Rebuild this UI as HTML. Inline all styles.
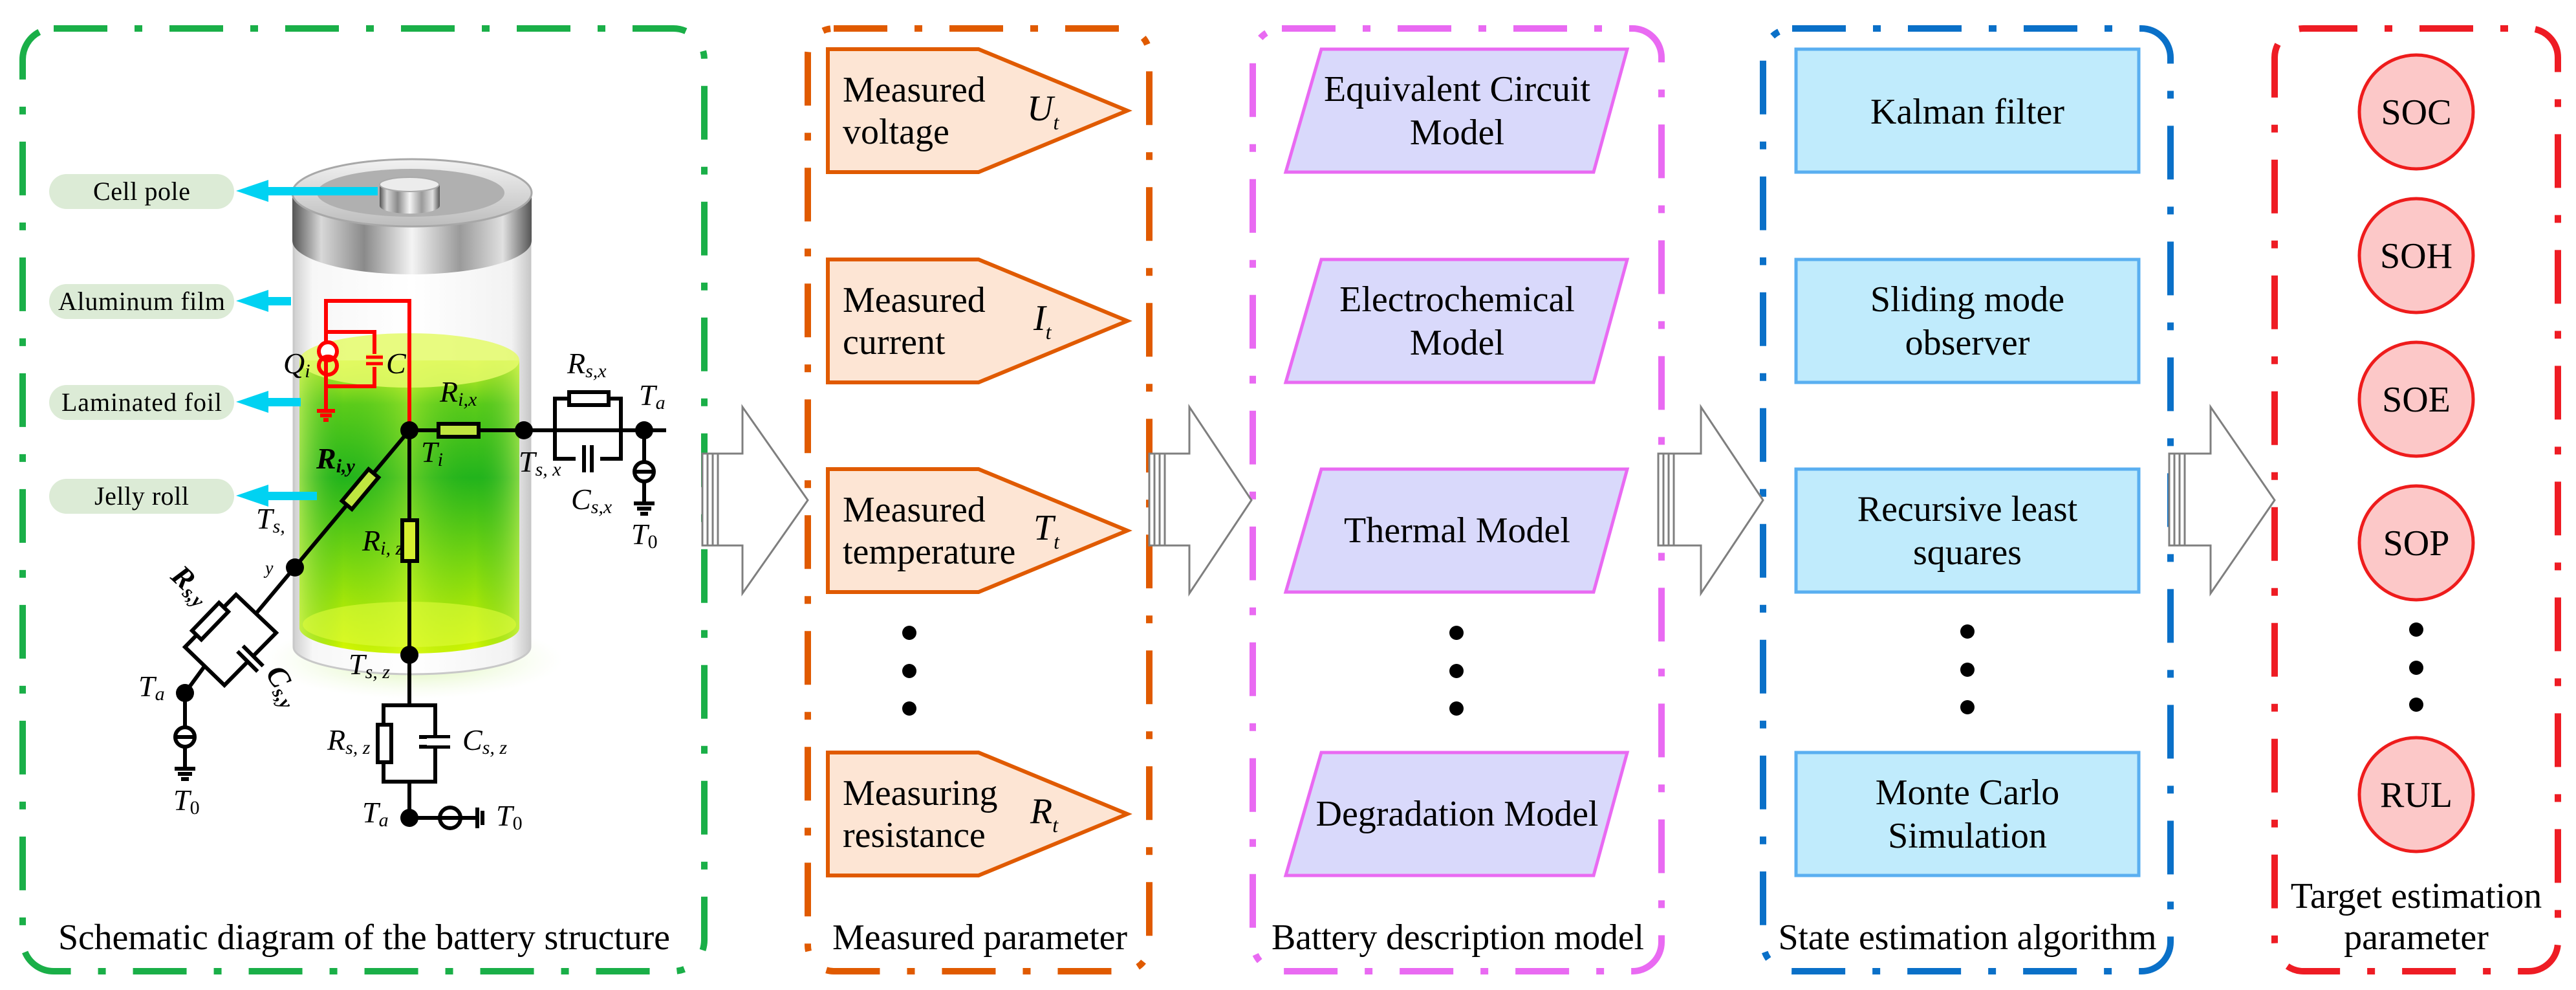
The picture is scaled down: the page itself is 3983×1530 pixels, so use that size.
<!DOCTYPE html>
<html><head><meta charset="utf-8"><style>
html,body{margin:0;padding:0;background:#fff}
svg{display:block}
svg text{font-family:"Liberation Serif","Times New Roman","DejaVu Serif",serif}
</style></head><body>
<svg width="3983" height="1530" viewBox="0 0 3983 1530" xmlns="http://www.w3.org/2000/svg" font-family="'Liberation Serif', 'Times New Roman', 'DejaVu Serif', serif">
<defs>
<linearGradient id="metal" x1="0" x2="1" y1="0" y2="0">
<stop offset="0" stop-color="#555"/><stop offset="0.12" stop-color="#d8d8d8"/><stop offset="0.3" stop-color="#8a8a8a"/><stop offset="0.5" stop-color="#f4f4f4"/><stop offset="0.7" stop-color="#9a9a9a"/><stop offset="0.88" stop-color="#e0e0e0"/><stop offset="1" stop-color="#555"/>
</linearGradient>
<linearGradient id="capTop" x1="0" x2="0" y1="0" y2="1">
<stop offset="0" stop-color="#f2f2f2"/><stop offset="1" stop-color="#bdbdbd"/>
</linearGradient>
<linearGradient id="glass" x1="0" x2="1" y1="0" y2="0">
<stop offset="0" stop-color="#cfcfcf"/><stop offset="0.08" stop-color="#f7f7f7"/><stop offset="0.5" stop-color="#ffffff"/><stop offset="0.92" stop-color="#f2f2f2"/><stop offset="1" stop-color="#c8c8c8"/>
</linearGradient>
<linearGradient id="liquid" x1="0" x2="0" y1="0" y2="1">
<stop offset="0" stop-color="#d7f52a"/><stop offset="0.15" stop-color="#5ccc1a"/><stop offset="0.4" stop-color="#22b41c"/><stop offset="0.7" stop-color="#7fd90f"/><stop offset="1" stop-color="#d8f800"/>
</linearGradient>
<linearGradient id="liqSide" x1="0" x2="1" y1="0" y2="0">
<stop offset="0" stop-color="#c8f060" stop-opacity="0.7"/><stop offset="0.2" stop-color="#2fb51e" stop-opacity="0"/><stop offset="0.5" stop-color="#e8ff40" stop-opacity="0.35"/><stop offset="0.8" stop-color="#1aa81a" stop-opacity="0"/><stop offset="1" stop-color="#c8f060" stop-opacity="0.6"/>
</linearGradient>
<radialGradient id="glow" cx="0.5" cy="0.5" r="0.5">
<stop offset="0" stop-color="#c8f08a" stop-opacity="0.8"/><stop offset="1" stop-color="#e8f8d0" stop-opacity="0"/>
</radialGradient>
</defs>

<!-- group boxes -->
<g fill="none" stroke-width="10" stroke-dasharray="83 42 12 42">
<rect x="35" y="44" width="1054" height="1457" rx="48" stroke="#1aaf48"/>
<rect x="1249" y="44" width="528" height="1457" rx="40" stroke="#e05a00"/>
<rect x="1937" y="44" width="632" height="1457" rx="45" stroke="#e96af2"/>
<rect x="2726" y="44" width="630" height="1457" rx="45" stroke="#0a70c8"/>
<rect x="3517" y="44" width="438" height="1457" rx="45" stroke="#ee1c24"/>
</g>

<!-- battery -->
<ellipse cx="640" cy="1020" rx="230" ry="60" fill="url(#glow)"/>
<path d="M454 372 L454 1000 A183 42 0 0 0 820 1000 L820 372 Z" fill="url(#glass)" stroke="#c8c8c8" stroke-width="3"/>
<path d="M463 557 L463 970 A170 40 0 0 0 803 970 L803 557 Z" fill="url(#liquid)"/>
<path d="M463 557 L463 970 A170 40 0 0 0 803 970 L803 557 Z" fill="url(#liqSide)"/>
<ellipse cx="633" cy="557" rx="170" ry="42" fill="#e4fa6a" opacity="0.85"/>
<ellipse cx="633" cy="965" rx="165" ry="35" fill="#e0fb3a" opacity="0.6"/>
<path d="M452 298 L452 372 A185 52 0 0 0 822 372 L822 298 Z" fill="url(#metal)"/>
<ellipse cx="637" cy="298" rx="185" ry="52" fill="url(#capTop)" stroke="#a8a8a8" stroke-width="3"/>
<ellipse cx="635" cy="298" rx="145" ry="37" fill="#b0b0b0"/>
<path d="M587 285 L587 318 A46 12 0 0 0 680 318 L680 285 Z" fill="url(#metal)"/>
<ellipse cx="633" cy="285" rx="46" ry="11" fill="#ececec" stroke="#aaa" stroke-width="2"/>

<!-- pills and cyan arrows -->
<g fill="#dcebd6">
<rect x="76" y="269" width="286" height="54" rx="27"/>
<rect x="76" y="439" width="286" height="54" rx="27"/>
<rect x="76" y="595" width="286" height="54" rx="27"/>
<rect x="76" y="740" width="286" height="54" rx="27"/>
</g>
<g font-size="40" text-anchor="middle" fill="#000">
<text x="219" y="309" textLength="150">Cell pole</text>
<text x="219" y="479" textLength="258">Aluminum film</text>
<text x="219" y="635" textLength="248">Laminated foil</text>
<text x="219" y="780" textLength="146">Jelly roll</text>
</g>
<g fill="#00d2f2">
<rect x="410" y="289" width="174" height="13"/><polygon points="365,295 415,278 415,312"/>
<rect x="410" y="459" width="40" height="13"/><polygon points="365,465 415,448 415,482"/>
<rect x="410" y="615" width="55" height="13"/><polygon points="365,621 415,604 415,638"/>
<rect x="410" y="760" width="80" height="13"/><polygon points="365,766 415,749 415,783"/>
</g>

<!-- red circuit -->
<g fill="none" stroke="#f00" stroke-width="6">
<polyline points="504,520 504,465 633,465 633,665"/>
<rect x="504" y="513" width="75" height="84"/>
<line x1="504" y1="597" x2="504" y2="635"/>
<line x1="490" y1="635" x2="518" y2="635"/><line x1="495" y1="642" x2="513" y2="642"/><line x1="500" y1="649" x2="508" y2="649"/>
</g>
<g fill="#fff" stroke="#f00" stroke-width="6">
<circle cx="507" cy="543" r="14"/><circle cx="507" cy="565" r="14" fill="none"/>
</g>
<rect x="566" y="547" width="26" height="20" fill="#e6f860"/>
<g stroke="#f00" stroke-width="5"><line x1="566" y1="552" x2="592" y2="552"/><line x1="566" y1="562" x2="592" y2="562"/></g>

<!-- black circuit -->
<g fill="none" stroke="#000" stroke-width="6">
<line x1="633" y1="665" x2="1030" y2="665"/>
<line x1="633" y1="665" x2="633" y2="1090"/>
<line x1="633" y1="665" x2="396" y2="948"/>
<rect x="858" y="616" width="102" height="93"/>
<line x1="996" y1="665" x2="996" y2="712"/>
<line x1="996" y1="746" x2="996" y2="778"/>
<line x1="980" y1="778" x2="1012" y2="778"/><line x1="985" y1="786" x2="1007" y2="786"/><line x1="990" y1="794" x2="1002" y2="794"/>
<rect x="593" y="1090" width="80" height="118"/>
<line x1="633" y1="1208" x2="633" y2="1264"/>
<line x1="633" y1="1264" x2="679" y2="1264"/>
<line x1="713" y1="1264" x2="736" y2="1264"/>
<line x1="738" y1="1248" x2="738" y2="1280"/><line x1="746" y1="1253" x2="746" y2="1275"/>
<polygon points="365,919 427,978 347,1059 286,1000"/>
<line x1="316" y1="1030" x2="286" y2="1071"/>
<line x1="286" y1="1071" x2="286" y2="1122"/>
<line x1="286" y1="1156" x2="286" y2="1188"/>
<line x1="270" y1="1188" x2="302" y2="1188"/><line x1="275" y1="1196" x2="297" y2="1196"/><line x1="280" y1="1204" x2="292" y2="1204"/>
<circle cx="996" cy="729" r="15"/><line x1="981" y1="729" x2="1011" y2="729"/>
<circle cx="696" cy="1264" r="16"/><line x1="680" y1="1264" x2="712" y2="1264"/>
<circle cx="286" cy="1139" r="15"/><line x1="271" y1="1139" x2="301" y2="1139"/>
</g>
<g fill="#fff" stroke="#000" stroke-width="6">
<rect x="678" y="655" width="62" height="20" fill="#bfe640"/>
<rect x="880" y="606" width="61" height="20"/>
<rect x="622" y="804" width="23" height="63" fill="#d6f030"/>
<rect x="584" y="1120" width="21" height="58"/>
<rect x="-32" y="-10" width="64" height="20" transform="translate(557,756) rotate(-50)" fill="#bfe640"/>
<rect x="-30" y="-10" width="60" height="20" transform="translate(325,960) rotate(-46)"/>
</g>
<rect x="890" y="690" width="38" height="40" fill="#fff"/>
<g stroke="#000" stroke-width="6">
<line x1="903" y1="688" x2="903" y2="730"/><line x1="915" y1="688" x2="915" y2="730"/>
<line x1="648" y1="1139" x2="696" y2="1139"/><line x1="648" y1="1154" x2="696" y2="1154"/>
</g>
<rect x="660" y="1141" width="40" height="11" fill="#fff"/>
<g transform="translate(387,1018) rotate(-45)"><rect x="-6" y="-22" width="12" height="44" fill="#fff"/><line x1="-6" y1="-22" x2="-6" y2="22" stroke="#000" stroke-width="6"/><line x1="6" y1="-22" x2="6" y2="22" stroke="#000" stroke-width="6"/></g>
<g fill="#000">
<circle cx="633" cy="665" r="14"/><circle cx="810" cy="665" r="14"/><circle cx="996" cy="665" r="14"/>
<circle cx="633" cy="1012" r="14"/><circle cx="633" cy="1264" r="14"/>
<circle cx="456" cy="877" r="14"/><circle cx="286" cy="1071" r="14"/>
</g>
<g font-size="46" font-style="italic" fill="#000">
<text x="438" y="577">Q<tspan font-size="30" dy="6">i</tspan></text>
<text x="597" y="577">C</text>
<text x="680" y="621">R<tspan font-size="30" dy="6">i,x</tspan></text>
<text x="651" y="714">T<tspan font-size="30" dy="6">i</tspan></text>
<text x="877" y="577">R<tspan font-size="30" dy="6">s,x</tspan></text>
<text x="988" y="626">T<tspan font-size="30" dy="6">a</tspan></text>
<text x="802" y="729">T<tspan font-size="30" dy="6">s, x</tspan></text>
<text x="883" y="787">C<tspan font-size="30" dy="6">s,x</tspan></text>
<text x="976" y="841">T<tspan font-size="30" font-style="normal" dy="6">0</tspan></text>
<text x="560" y="851">R<tspan font-size="30" dy="6">i, z</tspan></text>
<text x="539" y="1042">T<tspan font-size="30" dy="6">s, z</tspan></text>
<text x="506" y="1159">R<tspan font-size="30" dy="6">s, z</tspan></text>
<text x="715" y="1159">C<tspan font-size="30" dy="6">s, z</tspan></text>
<text x="560" y="1271">T<tspan font-size="30" dy="6">a</tspan></text>
<text x="767" y="1276">T<tspan font-size="30" font-style="normal" dy="6">0</tspan></text>
<text x="489" y="724" font-weight="bold">R<tspan font-size="30" dy="6">i,y</tspan></text>
<text x="396" y="817">T<tspan font-size="30" dy="6">s,</tspan></text>
<text x="410" y="887" font-size="28">y</text>
<text x="214" y="1076">T<tspan font-size="30" dy="6">a</tspan></text>
<text x="268" y="1252">T<tspan font-size="30" font-style="normal" dy="6">0</tspan></text>
<text font-weight="bold" transform="translate(262,893) rotate(43)">R<tspan font-size="30" dy="6">s,y</tspan></text>
<text font-weight="bold" transform="translate(410,1040) rotate(60)">C<tspan font-size="30" dy="6">s,y</tspan></text>
</g>

<!-- big arrows -->
<g fill="#fff" stroke="#7f7f7f" stroke-width="3">
<polygon points="1086,701 1148,701 1148,629 1249,773 1148,917 1148,843 1086,843"/>
<polygon points="1777,701 1839,701 1839,629 1935,773 1839,917 1839,843 1777,843"/>
<polygon points="2564,701 2630,701 2630,629 2726,773 2630,917 2630,843 2564,843"/>
<polygon points="3354,701 3418,701 3418,629 3517,773 3418,917 3418,843 3354,843"/>
</g>
<g stroke="#7f7f7f" stroke-width="3">
<line x1="1094" y1="701" x2="1094" y2="843"/><line x1="1102" y1="701" x2="1102" y2="843"/><line x1="1110" y1="701" x2="1110" y2="843"/>
<line x1="1785" y1="701" x2="1785" y2="843"/><line x1="1793" y1="701" x2="1793" y2="843"/><line x1="1801" y1="701" x2="1801" y2="843"/>
<line x1="2572" y1="701" x2="2572" y2="843"/><line x1="2580" y1="701" x2="2580" y2="843"/><line x1="2588" y1="701" x2="2588" y2="843"/>
<line x1="3362" y1="701" x2="3362" y2="843"/><line x1="3370" y1="701" x2="3370" y2="843"/><line x1="3378" y1="701" x2="3378" y2="843"/>
</g>

<!-- measured parameter pentagons -->
<g fill="#fde5d4" stroke="#e05a00" stroke-width="6">
<polygon points="1280,76 1513,76 1743,171 1513,266 1280,266"/>
<polygon points="1280,401 1513,401 1743,496 1513,591 1280,591"/>
<polygon points="1280,725 1513,725 1743,820 1513,915 1280,915"/>
<polygon points="1280,1163 1513,1163 1743,1258 1513,1353 1280,1353"/>
</g>
<g font-size="56" fill="#000">
<text x="1303" y="157">Measured</text><text x="1303" y="222">voltage</text>
<text x="1303" y="482">Measured</text><text x="1303" y="547">current</text>
<text x="1303" y="806">Measured</text><text x="1303" y="871">temperature</text>
<text x="1303" y="1244">Measuring</text><text x="1303" y="1309">resistance</text>
</g>
<g font-size="56" font-style="italic" fill="#000">
<text x="1588" y="186">U<tspan font-size="32" dy="14">t</tspan></text>
<text x="1598" y="510">I<tspan font-size="32" dy="14">t</tspan></text>
<text x="1598" y="834">T<tspan font-size="32" dy="14">t</tspan></text>
<text x="1593" y="1272">R<tspan font-size="32" dy="14">t</tspan></text>
</g>

<!-- model parallelograms -->
<g fill="#d9d9fb" stroke="#e96af2" stroke-width="5">
<polygon points="2043,76 2516,76 2464,266 1988,266"/>
<polygon points="2043,401 2516,401 2464,591 1988,591"/>
<polygon points="2043,725 2516,725 2464,915 1988,915"/>
<polygon points="2043,1163 2516,1163 2464,1353 1988,1353"/>
</g>
<!-- algorithm rects -->
<g fill="#c0ebfc" stroke="#5aaff0" stroke-width="5">
<rect x="2777" y="76" width="530" height="190"/>
<rect x="2777" y="401" width="530" height="190"/>
<rect x="2777" y="725" width="530" height="190"/>
<rect x="2777" y="1163" width="530" height="190"/>
</g>
<!-- circles -->
<g fill="#fcc8c8" stroke="#ee1c1c" stroke-width="5">
<circle cx="3736" cy="173" r="88"/><circle cx="3736" cy="395" r="88"/><circle cx="3736" cy="617" r="88"/><circle cx="3736" cy="839" r="88"/><circle cx="3736" cy="1228" r="88"/>
</g>
<g font-size="56" fill="#000" text-anchor="middle">
<text x="2253" y="156">Equivalent Circuit</text><text x="2253" y="223">Model</text>
<text x="2253" y="481">Electrochemical</text><text x="2253" y="548">Model</text>
<text x="2253" y="838">Thermal Model</text>
<text x="2253" y="1276">Degradation Model</text>
<text x="3042" y="191">Kalman filter</text>
<text x="3042" y="481">Sliding mode</text><text x="3042" y="548">observer</text>
<text x="3042" y="805">Recursive least</text><text x="3042" y="872">squares</text>
<text x="3042" y="1243">Monte Carlo</text><text x="3042" y="1310">Simulation</text>
<text x="3736" y="192">SOC</text><text x="3736" y="414">SOH</text><text x="3736" y="636">SOE</text><text x="3736" y="858">SOP</text><text x="3736" y="1247">RUL</text>
<text x="563" y="1467" textLength="946">Schematic diagram of the battery structure</text>
<text x="1515" y="1467" textLength="456">Measured parameter</text>
<text x="2254" y="1467" textLength="576">Battery description model</text>
<text x="3042" y="1467" textLength="585">State estimation algorithm</text>
<text x="3736" y="1403">Target estimation</text>
<text x="3736" y="1467">parameter</text>
</g>
<!-- dots -->
<g fill="#000">
<circle cx="1406" cy="978" r="11"/><circle cx="1406" cy="1037" r="11"/><circle cx="1406" cy="1095" r="11"/>
<circle cx="2252" cy="978" r="11"/><circle cx="2252" cy="1037" r="11"/><circle cx="2252" cy="1095" r="11"/>
<circle cx="3042" cy="976" r="11"/><circle cx="3042" cy="1035" r="11"/><circle cx="3042" cy="1093" r="11"/>
<circle cx="3736" cy="973" r="11"/><circle cx="3736" cy="1032" r="11"/><circle cx="3736" cy="1089" r="11"/>
</g>
</svg>
</body></html>
